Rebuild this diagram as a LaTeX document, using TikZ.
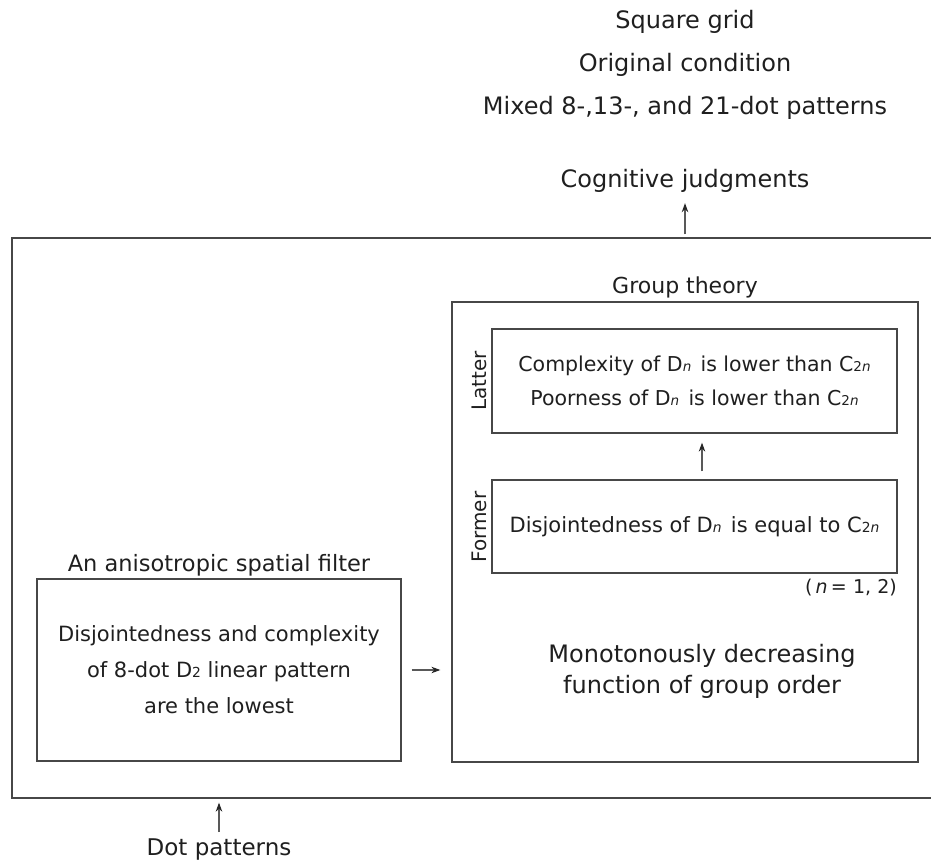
\documentclass[tikz,border=0pt]{standalone}
\usepackage{fontspec}
\setmainfont{DejaVu Sans}
\usetikzlibrary{arrows.meta}
\newcommand\lowsub[1]{\scalebox{0.66}{#1}}
\begin{document}
\begin{tikzpicture}[x=1pt,y=-1pt,
  box/.style={draw=black!72, line width=1.3pt, rectangle, inner sep=0pt, text=black!88},
  lbl/.style={inner sep=0pt, anchor=base, text=black!88},
  arr/.style={draw=black!65, line width=1.1pt, -{Stealth[length=9pt,width=6.5pt,color=black!85]}}]
\useasboundingbox (0,0) rectangle (931,861);
\clip (0,0) rectangle (931,861);
% top texts
\node[lbl, font=\fontsize{24}{28}\selectfont] (sq) at (685,29) {Square grid};
\node[lbl, font=\fontsize{24}{28}\selectfont] (orig) at (685,72) {Original condition};
\node[lbl, font=\fontsize{24}{28}\selectfont] (mix) at (685,115) {Mixed 8-,13-, and 21-dot patterns};
\node[lbl, font=\fontsize{24}{28}\selectfont] (cog) at (685,188) {Cognitive judgments};
% boxes
\node[box, minimum width=938pt, minimum height=560pt] (outer) at (481,518) {};
\node[box, minimum width=466pt, minimum height=460pt] (grp) at (685,532) {};
\node[lbl, font=\fontsize{22}{26}\selectfont] (grplbl) at (685,293) {Group theory};
\node[box, minimum width=405pt, minimum height=104pt, align=center,
      font=\fontsize{20.5}{34}\selectfont] (latter) at (694.5,381)
  {Complexity of D\lowsub{\itshape n}\hspace{0.45em}is lower than C\lowsub{2\itshape n}\\
   Poorness of D\lowsub{\itshape n}\hspace{0.45em}is lower than C\lowsub{2\itshape n}};
\node[box, minimum width=405pt, minimum height=93pt,
      font=\fontsize{21}{34}\selectfont] (former) at (694.5,526.5)
  {Disjointedness of D\lowsub{\itshape n}\hspace{0.45em}is equal to C\lowsub{2\itshape n}};
\node[lbl, rotate=90, font=\fontsize{20}{24}\selectfont] (lat) at (486,381) {Latter};
\node[lbl, rotate=90, font=\fontsize{20}{24}\selectfont] (form) at (486,527) {Former};
\node[lbl, anchor=base east, font=\fontsize{19}{22}\selectfont] (nval) at (897,593)
  {(\,\textit{n}\,=\,\,1, 2)};
\node[lbl, font=\fontsize{24}{28}\selectfont] (mono1) at (702,662) {Monotonously decreasing};
\node[lbl, font=\fontsize{24}{28}\selectfont] (mono2) at (702,693) {function of group order};
% left filter
\node[lbl, font=\fontsize{22.5}{26}\selectfont] (filtlbl) at (219,571) {An anisotropic spatial filter};
\node[box, minimum width=364pt, minimum height=182pt, align=center,
      font=\fontsize{21}{36}\selectfont] (filt) at (219,670)
  {Disjointedness and complexity\\ of 8-dot D\lowsub{2} linear pattern\\ are the lowest};
\node[lbl, font=\fontsize{23}{27}\selectfont] (dot) at (219,855) {Dot patterns};
% connectors
\draw[arr, shorten <=3pt, shorten >=10pt] (outer.north -| cog.south) -- (cog.south);
\draw[arr, shorten <=6pt, shorten >=4pt] (dot.north) -- (dot.north |- outer.south);
\draw[arr, shorten <=10pt, shorten >=11pt] (filt.east) -- (filt.east -| grp.west);
\draw[arr, shorten <=8pt, shorten >=9pt] ([xshift=7.5pt]former.north) -- ([xshift=7.5pt]latter.south);
\end{tikzpicture}
\end{document}
